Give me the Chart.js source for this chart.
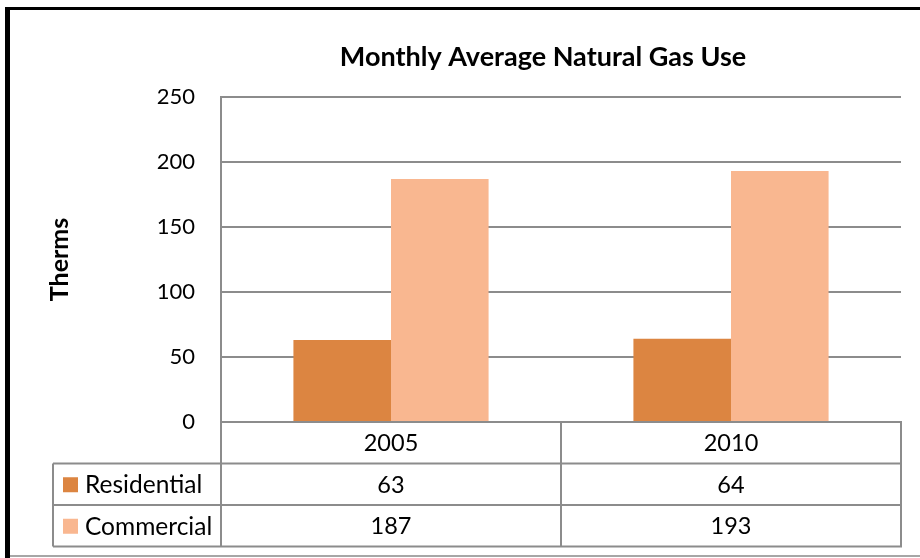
<!DOCTYPE html>
<html>
<head>
<meta charset="utf-8">
<script src="https://cdn.jsdelivr.net/npm/chart.js@4"></script>
<style>
  html, body { margin: 0; padding: 0; background: #fff; }
  #wrap { width: 920px; height: 558px; }
</style>
</head>
<body>
<div id="wrap"><canvas id="gasChart" width="920" height="558"></canvas></div>
<script>
// data
const years = ['2005', '2010'];
const residential = [63, 64];
const commercial = [187, 193];
const yTicks = [0, 50, 100, 150, 200, 250];

const FONT = 'Lato, "Liberation Sans", sans-serif';
const gridGrey = '#8c8c8c';

// draws title, frame and the data table under the plot
const tablePlugin = {
  id: 'dataTable',
  afterDraw(chart) {
    const ctx = chart.ctx;
    const area = chart.chartArea;
    const x = chart.scales.x;
    const catW = (area.right - area.left) / years.length;
    const rowH = 41.5;
    const tableLeft = 53;
    const top = area.bottom;

    ctx.save();

    // title
    ctx.fillStyle = '#000';
    ctx.font = 'bold 27px ' + FONT;
    ctx.textAlign = 'center';
    ctx.textBaseline = 'middle';
    ctx.fillText('Monthly Average Natural Gas Use', 543, 57);

    // table lines
    ctx.strokeStyle = gridGrey;
    ctx.lineWidth = 2;
    ctx.beginPath();
    // axis extension down through the table
    ctx.moveTo(area.left, area.top);
    ctx.lineTo(area.left, top + rowH * 3);
    // header row bottom + rows
    for (let r = 1; r <= 3; r++) {
      ctx.moveTo(tableLeft, top + rowH * r);
      ctx.lineTo(area.right + 1, top + rowH * r);
    }
    ctx.moveTo(area.left, top);
    ctx.lineTo(area.right + 1, top);
    ctx.moveTo(tableLeft, top + rowH);
    ctx.lineTo(tableLeft, top + rowH * 3);
    for (let i = 1; i <= years.length; i++) {
      const bx = area.left + catW * i;
      ctx.moveTo(bx, top);
      ctx.lineTo(bx, top + rowH * 3);
    }
    ctx.stroke();

    // table text
    ctx.font = '23.5px ' + FONT;
    ctx.fillStyle = '#000';
    ctx.textAlign = 'center';
    years.forEach((yr, i) => {
      const cx = x.getPixelForValue(i);
      ctx.fillText(yr, cx, top + rowH * 0.5 + 1);
      ctx.fillText(String(residential[i]), cx, top + rowH * 1.5 + 1);
      ctx.fillText(String(commercial[i]), cx, top + rowH * 2.5 + 1);
    });

    // legend keys in the table
    const series = chart.data.datasets;
    ctx.textAlign = 'left';
    ctx.font = '24.5px ' + FONT;
    series.forEach((ds, s) => {
      const cy = top + rowH * (s + 1.5);
      ctx.fillStyle = ds.backgroundColor;
      ctx.fillRect(63, cy - 7, 15, 15);
      ctx.fillStyle = '#000';
      ctx.fillText(ds.label, 85, cy + 1);
    });

    // outer frame
    ctx.fillStyle = '#000';
    ctx.fillRect(5, 7, 920, 3);
    ctx.fillRect(5, 7, 5, 551);
    ctx.fillStyle = '#a6a6a6';
    ctx.fillRect(10, 555, 910, 2);

    ctx.restore();
  }
};

new Chart(document.getElementById('gasChart'), {
  type: 'bar',
  data: {
    labels: years,
    datasets: [
      {
        label: 'Residential',
        data: residential,
        backgroundColor: '#dc8541',
        categoryPercentage: 0.574,
        barPercentage: 1.0
      },
      {
        label: 'Commercial',
        data: commercial,
        backgroundColor: '#f9b790',
        categoryPercentage: 0.574,
        barPercentage: 1.0
      }
    ]
  },
  options: {
    responsive: false,
    animation: false,
    events: [],
    layout: {
      padding: { left: 0, right: 19, top: 97, bottom: 136 }
    },
    plugins: {
      legend: { display: false },
      tooltip: { enabled: false },
      title: { display: false }
    },
    scales: {
      x: {
        display: false
      },
      y: {
        min: 0,
        max: 250,
        afterBuildTicks: scale => {
          scale.ticks = yTicks.map(v => ({ value: v }));
        },
        afterFit: scale => {
          scale.width = 221;
        },
        grid: {
          color: gridGrey,
          lineWidth: 2,
          drawTicks: false
        },
        border: {
          display: true,
          color: gridGrey,
          width: 2
        },
        ticks: {
          padding: 26,
          color: '#000',
          font: { family: FONT, size: 22 }
        },
        title: {
          display: true,
          text: 'Therms',
          color: '#000',
          font: { family: FONT, size: 25, weight: 'bold' },
          padding: { top: 45, bottom: 0 }
        }
      }
    }
  },
  plugins: [tablePlugin]
});
</script>
</body>
</html>
